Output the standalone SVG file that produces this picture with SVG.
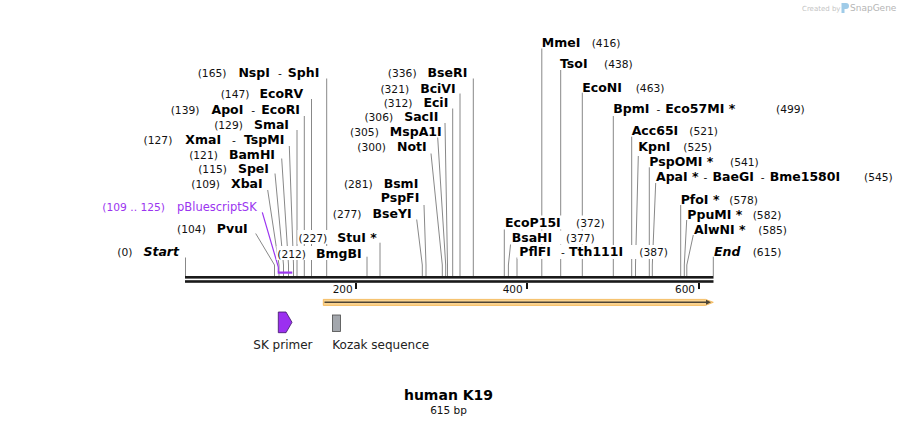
<svg xmlns="http://www.w3.org/2000/svg" width="899" height="426" viewBox="0 0 899 426">
<style>
text{font-family:"DejaVu Sans","Liberation Sans",sans-serif;fill:#000}
.L{text-anchor:end}
.n{font-size:10.7px;font-weight:normal;fill:#111}
.b{font-size:12.5px;font-weight:bold}
.bi{font-size:12.5px;font-weight:bold;font-style:italic}
.ln{fill:none;stroke:#888;stroke-width:1}
.bg{fill:#fff}
.tick{fill:#111}
.tl{font-size:10.5px;text-anchor:end;fill:#111}
.ft{font-size:12px;fill:#222}
</style>
<rect width="899" height="426" fill="#fff"/>
<g id="watermark">
<text x="802" y="10.5" style="font-size:7px;fill:#c4c4c4">Created by</text>
<path d="M841.5 3h4.5a3 3 0 0 1 0 6h-1.5v4h-3z" fill="#9fcbe8"/>
<text x="850" y="11" style="font-size:9px;fill:#b5b5b5">SnapGene</text>
</g>
<g id="connectors">
<polyline class="ln" points="185.5,257.5 185.5,276"/>
<polyline class="ln" points="255.7,233.5 274.5,265 274.5,276"/>
<polyline class="ln" points="267.7,190 279,265 279,276"/>
<polyline class="ln" points="275,173.5 283.5,265 283.5,276"/>
<polyline class="ln" points="281.7,158.5 288.5,265 288.5,276"/>
<polyline class="ln" points="289.3,146 293.5,265 293.5,276"/>
<polyline class="ln" points="297,130 297,276"/>
<polyline class="ln" points="304.3,116 304.3,276"/>
<polyline class="ln" points="311.5,99 311.5,276"/>
<polyline class="ln" points="326.7,78.5 326.7,276"/>
<polyline class="ln" points="367,256.7 367,276"/>
<polyline class="ln" points="380,242.7 380,276"/>
<polyline class="ln" points="416.7,219.5 422.3,265 422.3,276"/>
<polyline class="ln" points="424,205 426,265 426,276"/>
<polyline class="ln" points="431,153.5 442.3,265 442.3,276"/>
<polyline class="ln" points="437.7,137.5 445.7,265 445.7,276"/>
<polyline class="ln" points="445,123 447.5,265 447.5,276"/>
<polyline class="ln" points="452.7,108.5 452.7,276"/>
<polyline class="ln" points="460,93.5 460,276"/>
<polyline class="ln" points="473.3,78.5 473.3,276"/>
<polyline class="ln" points="504.3,228.5 504.3,276"/>
<polyline class="ln" points="510.7,243 508.4,265 508.4,276"/>
<polyline class="ln" points="517,257.5 517,276"/>
<polyline class="ln" points="541.8,48.5 541.8,276"/>
<polyline class="ln" points="560.7,70 560.7,276"/>
<polyline class="ln" points="582.3,92.7 582.3,276"/>
<polyline class="ln" points="613.3,116 613.3,276"/>
<polyline class="ln" points="631.7,136.7 631.7,276"/>
<polyline class="ln" points="638.3,156 635.5,265 635.5,276"/>
<polyline class="ln" points="649.3,167.3 649.3,276"/>
<polyline class="ln" points="655.7,183 652.3,265 652.3,276"/>
<polyline class="ln" points="680.7,205 680.7,276"/>
<polyline class="ln" points="686.7,220 684.3,265 684.3,276"/>
<polyline class="ln" points="693.3,235 686.8,265 686.8,276"/>
<polyline class="ln" points="713.3,256.7 713.3,276"/>
<polyline points="262.3,212.3 278.3,267 278.3,272" fill="none" stroke="#9b35f0" stroke-width="1.2"/>
</g>
<g id="backbone">
<rect x="185" y="276" width="528.5" height="2.6" fill="#1a1a1a"/>
<rect x="185" y="280.2" width="528.5" height="2.6" fill="#1a1a1a"/>
<rect class="tick" x="355" y="283" width="2" height="6"/>
<rect class="tick" x="526" y="283" width="2" height="6"/>
<rect class="tick" x="698" y="283" width="2" height="6"/>
<text class="tl" x="352.7" y="293">200</text>
<text class="tl" x="522.7" y="293">400</text>
<text class="tl" x="695" y="293">600</text>
</g>
<g id="pBluescriptSK">
<rect x="277.7" y="271.5" width="14.6" height="2.2" fill="#9b35f0"/>
<text class="L" x="256.7" y="211.2" style="fill:#9b35f0"><tspan class="n" style="fill:#9b35f0">(109 .. 125)</tspan><tspan dx="12" style="font-size:11.5px;fill:#9b35f0">pBluescriptSK</tspan></text>
</g>
<g id="cds">
<path d="M323.3 299.4H705.5L713.3 302.3L705.5 305.4H323.3Z" fill="#fbd490" stroke="#f2b24c" stroke-width="0.8"/>
<line x1="324.5" y1="302.3" x2="708" y2="302.3" stroke="#4d4536" stroke-width="1.4"/>
<path d="M706 299.8L711 302.3L706 304.8Z" fill="#4d4536"/>
</g>
<g id="sk-primer">
<path d="M278.3 312H286L292 322.3L286 332.7H278.3Z" fill="#9b30f0" stroke="#3e1566" stroke-width="0.8"/>
<text class="ft" x="253.3" y="348.5">SK primer</text>
</g>
<g id="kozak">
<rect x="332.5" y="315" width="8" height="16.5" fill="#a3a7ad" stroke="#4a4a4a" stroke-width="0.8"/>
<text class="ft" x="332.3" y="348.5">Kozak sequence</text>
</g>
<g id="title">
<text x="448.5" y="399.5" style="font-size:14px;font-weight:bold;text-anchor:middle">human K19</text>
<text x="448.5" y="413.5" style="font-size:10.5px;text-anchor:middle;fill:#111">615 bp</text>
</g>
<g id="site-Start"><text class="L" x="179" y="256.4"><tspan class="n">(0)</tspan><tspan class="bi" dx="11">Start</tspan></text></g>
<g id="site-PvuI"><text class="L" x="247.7" y="233.4"><tspan class="n">(104)</tspan><tspan class="b" dx="11">PvuI</tspan></text></g>
<g id="site-XbaI"><text class="L" x="262.7" y="187.7"><tspan class="n">(109)</tspan><tspan class="b" dx="11">XbaI</tspan></text></g>
<g id="site-SpeI"><text class="L" x="269" y="172.7"><tspan class="n">(115)</tspan><tspan class="b" dx="11">SpeI</tspan></text></g>
<g id="site-BamHI"><text class="L" x="275" y="158.7"><tspan class="n">(121)</tspan><tspan class="b" dx="11">BamHI</tspan></text></g>
<g id="site-XmaI"><text class="L" x="284.3" y="144.4"><tspan class="n">(127)</tspan><tspan class="b" dx="13">XmaI</tspan><tspan class="n" dx="11">-</tspan><tspan class="b" dx="8">TspMI</tspan></text></g>
<g id="site-SmaI"><text class="L" x="289" y="128.7"><tspan class="n">(129)</tspan><tspan class="b" dx="11">SmaI</tspan></text></g>
<g id="site-ApoI"><text class="L" x="300" y="113.7"><tspan class="n">(139)</tspan><tspan class="b" dx="12">ApoI</tspan><tspan class="n" dx="8">-</tspan><tspan class="b" dx="6">EcoRI</tspan></text></g>
<g id="site-EcoRV"><text class="L" x="303.3" y="97.7"><tspan class="n">(147)</tspan><tspan class="b" dx="10">EcoRV</tspan></text></g>
<g id="site-NspI"><text class="L" x="319.3" y="77"><tspan class="n">(165)</tspan><tspan class="b" dx="12">NspI</tspan><tspan class="n" dx="8">-</tspan><tspan class="b" dx="6">SphI</tspan></text></g>
<g id="site-BmgBI"><rect class="bg" x="276.5" y="246" width="87" height="14"/><text class="L" x="361.7" y="257.5"><tspan class="n">(212)</tspan><tspan class="b" dx="10">BmgBI</tspan></text></g>
<g id="site-StuI"><rect class="bg" x="297.5" y="230" width="81" height="14"/><text class="L" x="376.7" y="241.7"><tspan class="n">(227)</tspan><tspan class="b" dx="10">StuI *</tspan></text></g>
<g id="site-BseYI"><text class="L" x="411.7" y="217.7"><tspan class="n">(277)</tspan><tspan class="b" dx="11">BseYI</tspan></text></g>
<g id="site-PspFI"><text class="L" x="419.3" y="202"><tspan class="b">PspFI</tspan></text></g>
<g id="site-BsmI"><text class="L" x="418.3" y="187.7"><tspan class="n">(281)</tspan><tspan class="b" dx="11">BsmI</tspan></text></g>
<g id="site-NotI"><text class="L" x="426.7" y="151"><tspan class="n">(300)</tspan><tspan class="b" dx="11">NotI</tspan></text></g>
<g id="site-MspA1I"><text class="L" x="441.7" y="136"><tspan class="n">(305)</tspan><tspan class="b" dx="11">MspA1I</tspan></text></g>
<g id="site-SacII"><text class="L" x="438.3" y="121"><tspan class="n">(306)</tspan><tspan class="b" dx="11">SacII</tspan></text></g>
<g id="site-EciI"><text class="L" x="448.3" y="107"><tspan class="n">(312)</tspan><tspan class="b" dx="11">EciI</tspan></text></g>
<g id="site-BciVI"><text class="L" x="455.7" y="92.7"><tspan class="n">(321)</tspan><tspan class="b" dx="11">BciVI</tspan></text></g>
<g id="site-BseRI"><text class="L" x="467.3" y="77"><tspan class="n">(336)</tspan><tspan class="b" dx="11">BseRI</tspan></text></g>
<g id="site-EcoP15I"><rect class="bg" x="503" y="215.5" width="103" height="14"/><text x="505" y="226.7"><tspan class="b">EcoP15I</tspan><tspan class="n" x="576">(372)</tspan></text></g>
<g id="site-BsaHI"><rect class="bg" x="510" y="230.5" width="86" height="14"/><text x="511.7" y="241.7"><tspan class="b">BsaHI</tspan><tspan class="n" x="566">(377)</tspan></text></g>
<g id="site-PflFI"><rect class="bg" x="517.5" y="245" width="152" height="14"/><text x="519.3" y="256"><tspan class="b">PflFI</tspan><tspan class="n" x="561">-</tspan><tspan class="b" x="569">Tth111I</tspan><tspan class="n" x="639.3">(387)</tspan></text></g>
<g id="site-MmeI"><text x="541.7" y="47"><tspan class="b">MmeI</tspan><tspan class="n" x="591.7">(416)</tspan></text></g>
<g id="site-TsoI"><text x="560" y="68.4"><tspan class="b">TsoI</tspan><tspan class="n" x="604">(438)</tspan></text></g>
<g id="site-EcoNI"><text x="582.3" y="91.7"><tspan class="b">EcoNI</tspan><tspan class="n" x="635.7">(463)</tspan></text></g>
<g id="site-BpmI"><text x="613.3" y="113.4"><tspan class="b">BpmI</tspan><tspan class="n" dx="7">-</tspan><tspan class="b" dx="5">Eco57MI *</tspan><tspan class="n" x="776">(499)</tspan></text></g>
<g id="site-Acc65I"><text x="631.7" y="135.4"><tspan class="b">Acc65I</tspan><tspan class="n" x="689.3">(521)</tspan></text></g>
<g id="site-KpnI"><text x="638.3" y="151"><tspan class="b">KpnI</tspan><tspan class="n" x="683.3">(525)</tspan></text></g>
<g id="site-PspOMI"><text x="649.3" y="166"><tspan class="b">PspOMI *</tspan><tspan class="n" x="730">(541)</tspan></text></g>
<g id="site-ApaI"><text x="656" y="181"><tspan class="b">ApaI *</tspan><tspan class="n" dx="5">-</tspan><tspan class="b" dx="5">BaeGI</tspan><tspan class="n" dx="7">-</tspan><tspan class="b" dx="5">Bme1580I</tspan><tspan class="n" x="864">(545)</tspan></text></g>
<g id="site-PfoI"><text x="680.7" y="203.7"><tspan class="b">PfoI *</tspan><tspan class="n" x="729.3">(578)</tspan></text></g>
<g id="site-PpuMI"><text x="687.3" y="218.7"><tspan class="b">PpuMI *</tspan><tspan class="n" x="752.7">(582)</tspan></text></g>
<g id="site-AlwNI"><text x="694" y="233.7"><tspan class="b">AlwNI *</tspan><tspan class="n" x="758.3">(585)</tspan></text></g>
<g id="site-End"><text x="714" y="256"><tspan class="bi">End</tspan><tspan class="n" x="752.7">(615)</tspan></text></g>
</svg>
